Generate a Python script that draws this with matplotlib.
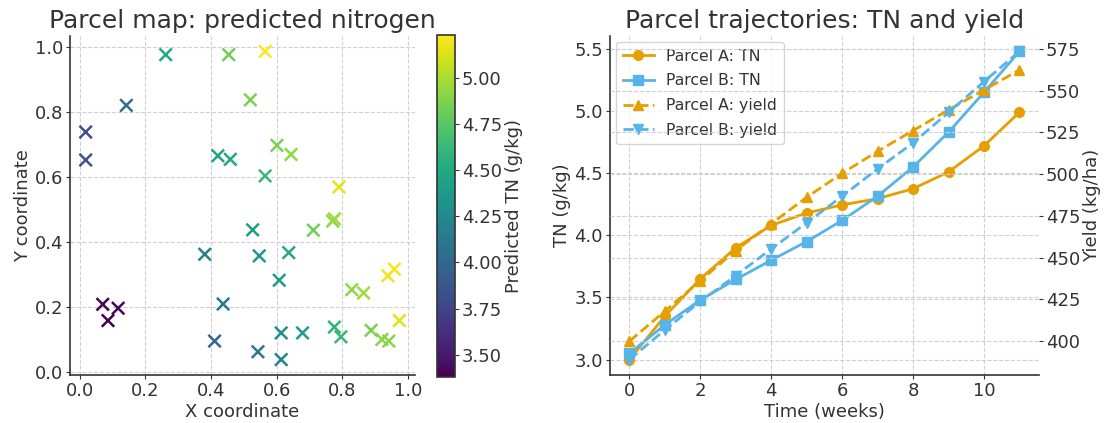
import numpy as np
import matplotlib
matplotlib.use("Agg")
import matplotlib.pyplot as plt

# parcel map data
x_coord = [0.262, 0.454, 0.565, 0.142, 0.018, 0.018, 0.520, 0.421, 0.459, 0.601,
           0.644, 0.565, 0.790, 0.771, 0.776, 0.712, 0.527, 0.381, 0.547, 0.637,
           0.608, 0.829, 0.865, 0.939, 0.959, 0.974, 0.070, 0.117, 0.086, 0.437,
           0.411, 0.614, 0.679, 0.776, 0.796, 0.888, 0.921, 0.942, 0.543, 0.614]
y_coord = [0.976, 0.976, 0.986, 0.820, 0.738, 0.652, 0.837, 0.665, 0.654, 0.697,
           0.669, 0.603, 0.569, 0.464, 0.471, 0.436, 0.437, 0.362, 0.357, 0.367,
           0.282, 0.253, 0.243, 0.296, 0.316, 0.158, 0.208, 0.196, 0.158, 0.209,
           0.095, 0.120, 0.120, 0.138, 0.108, 0.128, 0.100, 0.095, 0.062, 0.038]
pred_tn = [4.50, 4.82, 5.23, 4.06, 3.82, 3.86, 4.86, 4.45, 4.48, 4.86,
           4.92, 4.62, 5.15, 4.90, 4.95, 4.82, 4.40, 4.17, 4.35, 4.50,
           4.40, 4.92, 4.95, 5.18, 5.20, 5.14, 3.40, 3.42, 3.38, 4.12,
           3.99, 4.30, 4.40, 4.58, 4.62, 4.86, 4.90, 4.90, 4.12, 4.21]

# trajectories
weeks = list(range(12))
tn_a = [3.00, 3.35, 3.65, 3.90, 4.08, 4.18, 4.245, 4.295, 4.375, 4.51, 4.72, 4.99]
tn_b = [3.05, 3.28, 3.48, 3.645, 3.80, 3.95, 4.12, 4.315, 4.55, 4.83, 5.15, 5.48]
yield_a = [400.0, 418.0, 436.3, 454.3, 470.3, 486.2, 500.5, 513.7, 526.1, 538.5, 550.4, 562.4]
yield_b = [389.0, 406.8, 423.8, 439.3, 455.3, 470.9, 486.8, 503.2, 518.7, 537.0, 555.4, 573.5]

orange = "#E69F00"
blue = "#56B4E9"
dark = "#333333"

plt.rcParams.update({
    "font.family": "DejaVu Sans",
    "font.size": 12,
    "text.color": dark,
    "axes.labelcolor": dark,
    "axes.edgecolor": dark,
    "xtick.color": dark,
    "ytick.color": dark,
    "axes.linewidth": 1.2,
    "xtick.direction": "out",
    "ytick.direction": "out",
    "axes.labelpad": 2,
})

fig = plt.figure(figsize=(11.07, 4.23), dpi=100)
ax1 = fig.add_axes([0.0632, 0.1135, 0.3117, 0.8014])
cax = fig.add_axes([0.3948, 0.1087, 0.0163, 0.8085])
ax2 = fig.add_axes([0.551, 0.1135, 0.3875, 0.8014])


def style(ax):
    ax.grid(True, linestyle="--", color="#d0d0d0", linewidth=0.8)
    ax.set_axisbelow(True)
    ax.spines["top"].set_visible(False)
    ax.spines["right"].set_visible(False)
    ax.tick_params(labelsize=13, length=3, pad=2)


style(ax1)
sc = ax1.scatter(x_coord, y_coord, c=pred_tn, cmap="viridis", marker="x", s=80, linewidths=1.8)
ax1.set_title("Parcel map: predicted nitrogen", fontsize=18, pad=6)
ax1.set_xlabel("X coordinate", fontsize=13)
ax1.set_ylabel("Y coordinate", fontsize=13)
cb = fig.colorbar(sc, cax=cax)
cb.set_label("Predicted TN (g/kg)", fontsize=13)
cb.ax.tick_params(labelsize=13, length=3, pad=2)
cb.outline.set_edgecolor(dark)

style(ax2)
ax3 = ax2.twinx()
ax3.grid(True, linestyle="--", color="#d0d0d0", linewidth=0.8)
for sp in ax3.spines.values():
    sp.set_visible(False)
ax3.tick_params(labelsize=13, length=3, pad=2)

l1, = ax2.plot(weeks, tn_a, "-o", color=orange, lw=2, ms=7, label="Parcel A: TN")
l2, = ax2.plot(weeks, tn_b, "-s", color=blue, lw=2, ms=7, label="Parcel B: TN")
l3, = ax3.plot(weeks, yield_a, "--^", color=orange, lw=2, ms=7, label="Parcel A: yield")
l4, = ax3.plot(weeks, yield_b, "--v", color=blue, lw=2, ms=7, label="Parcel B: yield")
ax2.set_title("Parcel trajectories: TN and yield", fontsize=18, pad=6)
ax2.set_xlabel("Time (weeks)", fontsize=13)
ax2.set_ylabel("TN (g/kg)", fontsize=13)
ax3.set_ylabel("Yield (kg/ha)", fontsize=13)
ax2.set_yticks([3.0, 3.5, 4.0, 4.5, 5.0, 5.5])
ax2.legend(handles=[l1, l2, l3, l4], loc="upper left", fontsize=11.3,
           edgecolor="#cccccc", borderaxespad=0.4, labelspacing=0.62)

fig.savefig("out.png", dpi=100)
